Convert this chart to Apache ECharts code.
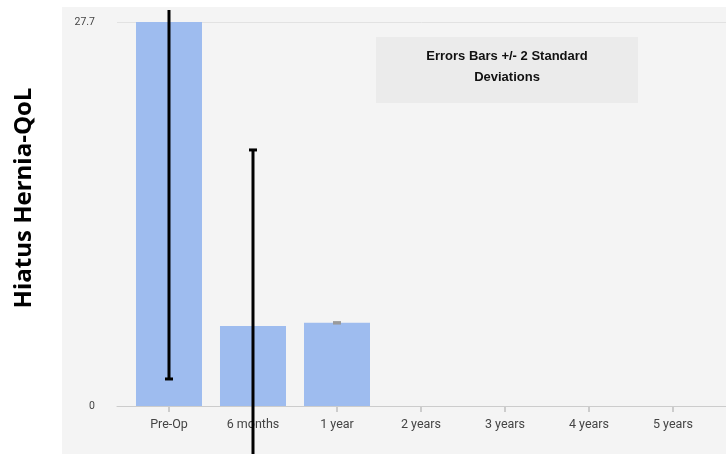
<!DOCTYPE html>
<html>
<head>
<meta charset="utf-8">
<script src="https://cdn.jsdelivr.net/npm/echarts@6/dist/echarts.min.js"></script>
<style>
  html, body { margin: 0; padding: 0; background: #ffffff; }
  #chart { width: 726px; height: 454px; }
</style>
</head>
<body>
<div id="chart"></div>
<script>
// Time points after surgery
const categories = ['Pre-Op', '6 months', '1 year', '2 years', '3 years', '4 years', '5 years'];
// Mean Hiatus Hernia-QoL score at each measured time point
const meanScores = [27.7, 5.77, 6.0];
// Half-length of each error bar (2 standard deviations)
const twoSD = [25.75, 12.7, 0];
// Y axis tick labels
const yTicks = [0, 27.7];

const catIndex = categories.map((_, i) => i);
const barData = meanScores.map((v, i) => [i, v]);
const errData = meanScores.map((v, i) => [i, v, twoSD[i]]);

const chart = echarts.init(document.getElementById('chart'));

function renderError(params, api) {
  const x = api.value(0), m = api.value(1), h = api.value(2);
  const top = api.coord([x, m + h]);
  const bot = api.coord([x, m - h]);
  const ceil = params.coordSys.y - 12;
  const topY = Math.max(top[1], ceil);
  const clipped = top[1] < ceil;
  const color = h === 0 ? '#9a9a9a' : '#000000';
  const children = [];
  if (h > 0) {
    children.push({ type: 'rect', shape: { x: top[0] - 1.5, y: topY, width: 3, height: bot[1] - topY }, style: { fill: color } });
  }
  if (!clipped) {
    children.push({ type: 'rect', shape: { x: top[0] - 4, y: top[1] - 1.5, width: 8, height: 3 }, style: { fill: color } });
  }
  children.push({ type: 'rect', shape: { x: bot[0] - 4, y: bot[1] - 1.5, width: 8, height: 3 }, style: { fill: color } });
  return { type: 'group', children: children };
}

chart.setOption({
  animation: false,
  backgroundColor: '#ffffff',
  graphic: [
    { type: 'rect', z: -100, shape: { x: 62, y: 7, width: 664, height: 447 }, style: { fill: '#f4f4f4' } },
    {
      type: 'text', x: 24, y: 198, rotation: Math.PI / 2,
      style: { text: 'Hiatus Hernia-QoL', fill: '#000', font: 'bold 24px "Open Sans", sans-serif', textAlign: 'center', textVerticalAlign: 'middle' }
    },
    { type: 'rect', z: 50, shape: { x: 376, y: 37, width: 262, height: 66 }, style: { fill: '#ebebeb' } },
    {
      type: 'text', z: 51, x: 507, y: 67,
      style: { text: 'Errors Bars +/- 2 Standard\nDeviations', fill: '#111', font: 'bold 13px "Liberation Sans", Arial, sans-serif', textAlign: 'center', textVerticalAlign: 'middle', lineHeight: 21 }
    }
  ],
  grid: { left: 117, top: 22, width: 609, height: 384, containLabel: false },
  xAxis: {
    type: 'value', min: -0.619, max: 6.631,
    splitLine: { show: false },
    axisLine: { show: true, lineStyle: { color: '#cccccc', width: 1 } },
    axisTick: { show: true, customValues: catIndex, length: 6, lineStyle: { color: '#cccccc', width: 2 } },
    axisLabel: {
      customValues: catIndex, margin: 12,
      formatter: v => categories[Math.round(v)],
      color: '#444', fontSize: 12.5, fontFamily: 'Roboto, sans-serif'
    }
  },
  yAxis: {
    type: 'value', min: 0, max: 27.7, interval: 13.85,
    axisLine: { show: true, lineStyle: { color: '#cccccc', width: 1 } },
    axisTick: { show: true, customValues: yTicks, length: 8, lineStyle: { color: '#cccccc' } },
    axisLabel: { customValues: yTicks, margin: 22, color: '#444', fontSize: 10.5, fontFamily: 'Roboto, sans-serif' },
    splitLine: { show: true, lineStyle: { color: '#e2e2e2', width: 1 } }
  },
  series: [
    { type: 'bar', data: barData, barWidth: 66, itemStyle: { color: '#9ebcef' }, z: 2 },
    { type: 'custom', data: errData, renderItem: renderError, clip: false, z: 5, encode: { x: 0, y: 1 } }
  ]
});
</script>
</body>
</html>
